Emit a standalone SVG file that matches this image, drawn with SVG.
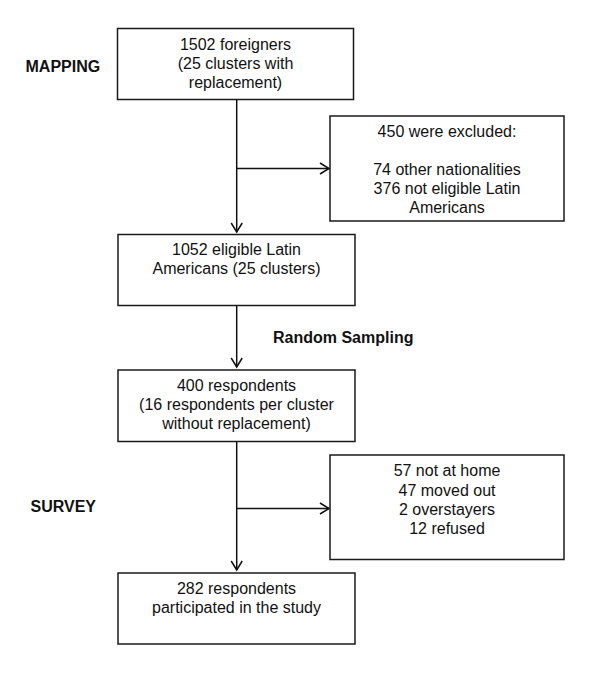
<svg xmlns="http://www.w3.org/2000/svg" width="600" height="686" viewBox="0 0 600 686">
<defs>
<marker id="arr" markerWidth="12" markerHeight="14" viewBox="-10 -7 12 14" refX="0" refY="0" orient="auto" markerUnits="userSpaceOnUse">
<path d="M-9,-5.5 L0,0 L-9,5.5" fill="none" stroke="#111" stroke-width="1.5"/>
</marker>
<style>
.box{fill:#fff;stroke:#1a1a1a;stroke-width:1.5}
.t{font-family:"Liberation Sans",Arial,sans-serif;font-size:16px;fill:#111;text-anchor:middle}
.lb{font-family:"Liberation Sans",Arial,sans-serif;font-size:16px;font-weight:bold;fill:#111}
.c{fill:none;stroke:#111;stroke-width:1.5}
</style>
</defs>
<rect width="600" height="686" fill="#fff"/>
<g id="labels">
<text class="lb" x="25.5" y="72">MAPPING</text>
<text class="lb" x="273" y="343">Random Sampling</text>
<text class="lb" x="30.5" y="512">SURVEY</text>
</g>
<g id="connectors">
<line class="c" x1="236.7" y1="100" x2="236.7" y2="232" marker-end="url(#arr)"/>
<line class="c" x1="236.7" y1="168.5" x2="329" y2="168.5" marker-end="url(#arr)"/>
<line class="c" x1="236.7" y1="306" x2="236.7" y2="367" marker-end="url(#arr)"/>
<line class="c" x1="236.7" y1="442" x2="236.7" y2="570" marker-end="url(#arr)"/>
<line class="c" x1="236.7" y1="508.5" x2="329" y2="508.5" marker-end="url(#arr)"/>
</g>
<g id="n1">
<rect class="box" x="117.5" y="28.5" width="236" height="71"/>
<text class="t" x="235.5" y="50">1502 foreigners</text>
<text class="t" x="235.5" y="69">(25 clusters with</text>
<text class="t" x="235.5" y="88">replacement)</text>
</g>
<g id="n2">
<rect class="box" x="330" y="116" width="234" height="105"/>
<text class="t" x="447" y="137">450 were excluded:</text>
<text class="t" x="447" y="175">74 other nationalities</text>
<text class="t" x="447" y="194">376 not eligible Latin</text>
<text class="t" x="447" y="213">Americans</text>
</g>
<g id="n3">
<rect class="box" x="118" y="234.5" width="237" height="71"/>
<text class="t" x="236.5" y="255">1052 eligible Latin</text>
<text class="t" x="236.5" y="274">Americans (25 clusters)</text>
</g>
<g id="n4">
<rect class="box" x="118" y="370" width="237" height="71.5"/>
<text class="t" x="236.5" y="391">400 respondents</text>
<text class="t" x="236.5" y="410">(16 respondents per cluster</text>
<text class="t" x="236.5" y="429">without replacement)</text>
</g>
<g id="n5">
<rect class="box" x="330" y="455" width="234" height="104.5"/>
<text class="t" x="447" y="476">57 not at home</text>
<text class="t" x="447" y="495.5">47 moved out</text>
<text class="t" x="447" y="514.5">2 overstayers</text>
<text class="t" x="447" y="533.5">12 refused</text>
</g>
<g id="n6">
<rect class="box" x="118" y="573" width="237" height="71"/>
<text class="t" x="236.5" y="594">282 respondents</text>
<text class="t" x="236.5" y="613">participated in the study</text>
</g>
</svg>
